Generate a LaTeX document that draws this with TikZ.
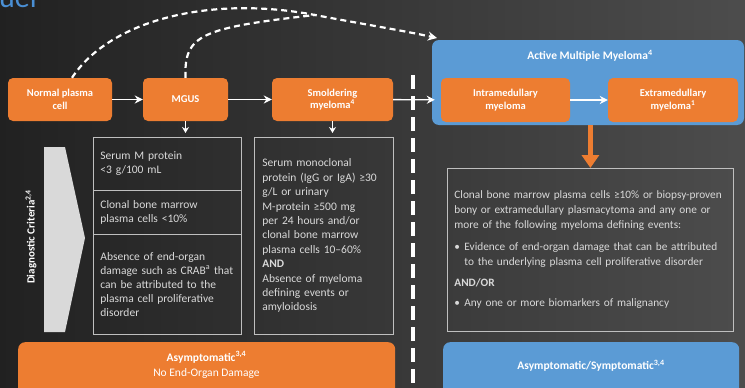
\documentclass[tikz,border=0pt]{standalone}
\usepackage{fontspec}
\setmainfont{Carlito}
\usetikzlibrary{arrows.meta}
\definecolor{orangeC}{HTML}{ED7D31}
\definecolor{blueC}{HTML}{5B9BD5}
\definecolor{titleC}{HTML}{4A8FD4}
\definecolor{lineC}{HTML}{BFBFBF}
\definecolor{textC}{HTML}{D9D9D9}
\definecolor{chevC}{HTML}{D9D9D9}
\begin{document}
\begin{tikzpicture}[x=1pt,y=-1pt,
  obox/.style={fill=orangeC, rounded corners=5, text=white, inner sep=0, align=center,
    font=\bfseries\fontsize{10.5}{12.5}\selectfont},
  cellbox/.style={draw=lineC, line width=0.8, text=textC, inner sep=0, align=left, anchor=north west,
    font=\fontsize{11.5}{14.2}\selectfont},
  warrow/.style={draw=white, line width=1.4, -{Stealth[length=8pt,width=8pt]}},
  dasharrow/.style={draw=white, line width=2.2, dash pattern=on 6pt off 4pt, -{Stealth[length=9pt,width=9pt]}},
  barbox/.style={rounded corners=7, minimum height=60, inner sep=0, anchor=north west},
]
\clip (0,0) rectangle (745,388);
\shade[left color=black!87, right color=black!70] (0,0) rectangle (745,388);

% title fragment
\node[anchor=base west, inner sep=0, text=titleC, font=\fontsize{30}{30}\selectfont] (ttl) at (-1,8) {uel};

% top row
\node[obox, minimum width=104, minimum height=43] (npc) at (60,99.5) {Normal plasma\\cell};
\node[obox, minimum width=85, minimum height=43] (mgus) at (185.5,99.5) {MGUS};
\node[obox, minimum width=121, minimum height=43] (smol) at (332.5,99.5) {Smoldering\\myeloma\textsuperscript{4}};

% active MM box
\node[fill=blueC, rounded corners=7, minimum width=312, minimum height=85, inner sep=0] (amm) at (588,82.5) {};
\node[text=white, font=\bfseries\fontsize{11.5}{13}\selectfont, inner sep=0] (ammt) at (590,56) {Active Multiple Myeloma\textsuperscript{4}};
\node[obox, minimum width=129, minimum height=44] (intra) at (505.5,100) {Intramedullary\\myeloma};
\node[obox, minimum width=130, minimum height=44] (extra) at (673,100) {Extramedullary\\myeloma\textsuperscript{1}};

% vertical dashed separator
\coordinate (sepT) at (413,75);
\coordinate (sepB) at (413,392);
\draw[white, line width=4, dash pattern=on 14pt off 7pt] (sepT) -- (sepB);

% horizontal arrows
\draw[warrow] (npc) -- (mgus);
\draw[warrow] (mgus) -- (smol);
\draw[warrow, shorten >=6pt] (smol) -- (intra);
\draw[warrow] (intra) -- (extra);

% left table
\node[cellbox, minimum width=148, minimum height=53, text width=134] (c1) at (93,137)
  {Serum M protein\\<3 g/100 mL};
\node[cellbox, minimum width=148, minimum height=44, text width=134] (c2) at (93,190)
  {Clonal bone marrow\\plasma cells <10\%};
\node[cellbox, minimum width=148, minimum height=100, text width=134, font=\fontsize{11.5}{14}\selectfont] (c3) at (93,234)
  {Absence of end-organ\\damage such as CRAB\textsuperscript{a} that\\can be attributed to the\\plasma cell proliferative\\disorder};

% middle box
\node[cellbox, minimum width=139, minimum height=197, text width=123, font=\fontsize{11.5}{14.4}\selectfont] (mid) at (254,137)
  {Serum monoclonal\\protein (IgG or IgA) ≥30\\g/L or urinary\\M-protein ≥500 mg\\per 24 hours and/or\\clonal bone marrow\\plasma cells 10–60\%\\\textbf{AND}\\Absence of myeloma\\defining events or\\amyloidosis};

% down arrows
\draw[draw=white, line width=1.2, -{Stealth[length=6pt,width=7pt]}, shorten >=4pt] (mgus) -- (mgus |- c1.north);
\draw[draw=white, line width=1.2, -{Stealth[length=6pt,width=7pt]}, shorten >=4pt] (smol) -- (smol |- mid.north);

% right box
\node[cellbox, minimum width=286, minimum height=163, text width=272, font=\fontsize{11.3}{14.8}\selectfont] (rbox) at (447,168)
  {Clonal bone marrow plasma cells ≥10\% or biopsy-proven\\
   bony or extramedullary plasmacytoma and any one or\\
   more of the following myeloma defining events:\\[7pt]
   \makebox[10pt][l]{•}Evidence of end-organ damage that can be attributed\\
   \hspace*{10pt}to the underlying plasma cell proliferative disorder\\[7pt]
   \textbf{AND/OR}\\[5pt]
   \makebox[10pt][l]{•}Any one or more biomarkers of malignancy};

% orange down arrow
\draw[draw=orangeC, line width=5, -{Triangle[length=13pt,width=17pt]}] (rbox.north |- amm.south) -- (rbox.north);

% chevron
\coordinate (chA) at (44,147);
\coordinate (chB) at (65,147);
\coordinate (chC) at (85,238);
\coordinate (chD) at (65,332);
\coordinate (chE) at (44,332);
\fill[chevC] (chA) -- (chB) -- (chC) -- (chD) -- (chE) -- cycle;
\node[rotate=90, text=white, font=\bfseries\fontsize{11}{13}\selectfont, inner sep=0] (dc) at (31,237)
  {Diagnostic Criteria\textsuperscript{2,4}};

% dashed curves
\coordinate (m1) at (315,15);
\coordinate (aend) at (437,38);
\draw[dasharrow] ([xshift=12pt]npc.north) .. controls (110,20) and (210,-5) .. (m1)
   .. controls (360,23.6) and (400,30) .. (aend);
\draw[draw=white, line width=2.2, dash pattern=on 6pt off 4pt] (mgus.north) .. controls (184,35) and (200,28) .. (m1);

% bottom bars
\node[barbox, fill=orangeC, minimum width=377] (asym) at (18,342) {};
\node[text=white, align=center, inner sep=0, font=\fontsize{11.5}{15}\selectfont] (asymt) at (206.5,365)
  {\textbf{Asymptomatic\textsuperscript{3,4}}\\No End-Organ Damage};
\node[barbox, fill=blueC, minimum width=296] (sym) at (443,342) {};
\node[text=white, inner sep=0, font=\bfseries\fontsize{11.5}{15}\selectfont] (symt) at (591,366)
  {Asymptomatic/Symptomatic\textsuperscript{3,4}};
\end{tikzpicture}
\end{document}
